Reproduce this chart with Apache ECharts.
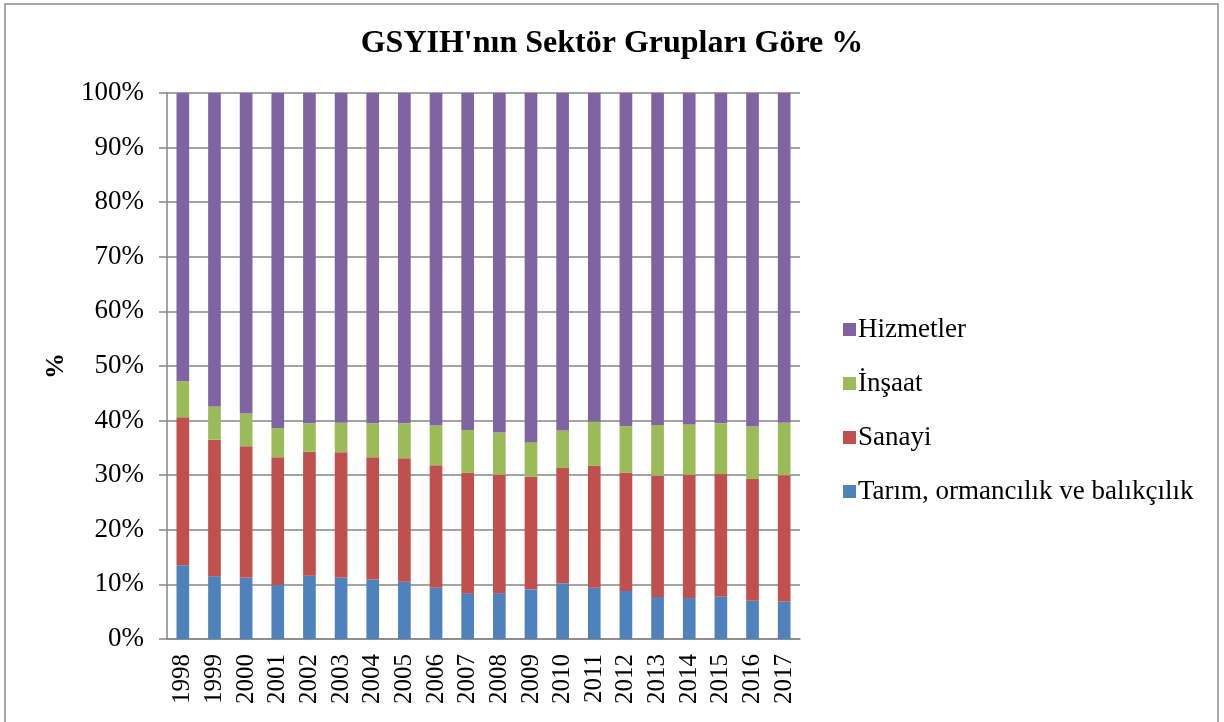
<!DOCTYPE html>
<html>
<head>
<meta charset="utf-8">
<script src="https://cdn.jsdelivr.net/npm/echarts@6/dist/echarts.min.js"></script>
<style>
  html, body { margin: 0; padding: 0; background: #fff; }
  #chart { width: 1224px; height: 722px; }
</style>
</head>
<body>
<div id="chart"></div>
<script>
// yillar ve sektor paylari (%)
const years = ['1998', '1999', '2000', '2001', '2002', '2003', '2004', '2005', '2006', '2007',
  '2008', '2009', '2010', '2011', '2012', '2013', '2014', '2015', '2016', '2017']
const tarim = [13.5, 11.5, 11.2, 9.9, 11.6, 11.2, 10.9, 10.5, 9.4, 8.4,
  8.4, 9.1, 10.2, 9.4, 8.8, 7.7, 7.5, 7.8, 7.0, 6.8]
const sanayi = [27.1, 25.0, 24.1, 23.4, 22.7, 23.0, 22.4, 22.6, 22.4, 22.1,
  21.7, 20.6, 21.1, 22.3, 21.7, 22.2, 22.6, 22.4, 22.3, 23.2]
const insaat = [6.6, 6.1, 6.0, 5.3, 5.2, 5.4, 6.2, 6.4, 7.3, 7.8,
  7.7, 6.3, 6.9, 8.1, 8.5, 9.3, 9.2, 9.3, 9.6, 9.6]
const hizmetler = [52.8, 57.4, 58.7, 61.4, 60.5, 60.4, 60.5, 60.5, 60.9, 61.7,
  62.2, 64.0, 61.8, 60.2, 61.0, 60.8, 60.7, 60.5, 61.1, 60.4]
const yTicks = [0, 10, 20, 30, 40, 50, 60, 70, 80, 90, 100]

const serif = '"Liberation Serif", "Times New Roman", serif'
const gridColor = '#868686'

const chart = echarts.init(document.getElementById('chart'))

function bar(name, data, color) {
  return {
    name: name,
    type: 'bar',
    stack: 'total',
    barCategoryGap: '60%',
    data: data,
    itemStyle: { color: color },
    emphasis: { disabled: true }
  }
}

const option = {
  animation: false,
  title: {
    text: "GSYIH'nın Sektör Grupları Göre %",
    left: 'center',
    top: 23,
    textStyle: { fontFamily: serif, fontSize: 32, fontWeight: 'bold', color: '#000' }
  },
  legend: {
    orient: 'vertical',
    left: 838,
    top: 311,
    itemWidth: 13,
    itemHeight: 13,
    itemGap: 27,
    icon: 'rect',
    data: ['Hizmetler', 'İnşaat', 'Sanayi', 'Tarım, ormancılık ve balıkçılık'],
    textStyle: { fontFamily: serif, fontSize: 27, color: '#000', padding: [0, 0, 0, -3] }
  },
  grid: {
    left: 167,
    right: 424,
    top: 93,
    bottom: 83,
    containLabel: false
  },
  xAxis: {
    type: 'category',
    data: years,
    axisLine: { lineStyle: { color: gridColor, width: 1.5 } },
    axisTick: { length: 7, interval: 0, lineStyle: { color: gridColor, width: 1.5 } },
    axisLabel: {
      interval: 0,
      hideOverlap: false,
      rotate: 90,
      margin: 15,
      fontFamily: serif,
      fontSize: 25,
      color: '#000'
    }
  },
  yAxis: {
    type: 'value',
    min: yTicks[0],
    max: yTicks[yTicks.length - 1],
    interval: 10,
    name: '%',
    nameLocation: 'middle',
    nameGap: 98,
    nameTextStyle: { fontFamily: serif, fontSize: 26, fontWeight: 'bold', color: '#000' },
    axisLine: { show: true, lineStyle: { color: gridColor, width: 1.5 } },
    axisTick: { show: true, length: 8, lineStyle: { color: gridColor, width: 1.5 } },
    splitLine: { lineStyle: { color: gridColor, width: 1.5 } },
    axisLabel: {
      formatter: '{value}%',
      margin: 23,
      fontFamily: serif,
      fontSize: 27,
      color: '#000'
    }
  },
  graphic: [{
    type: 'rect',
    shape: { x: 5, y: 4, width: 1213, height: 760 },
    style: { fill: 'none', stroke: '#8c8c8c', lineWidth: 1.5 },
    silent: true
  }],
  series: [
    bar('Tarım, ormancılık ve balıkçılık', tarim, '#4F81BD'),
    bar('Sanayi', sanayi, '#C0504D'),
    bar('İnşaat', insaat, '#9BBB59'),
    bar('Hizmetler', hizmetler, '#8064A2')
  ]
}

chart.setOption(option)
window.addEventListener('resize', function () {
  chart.resize()
})
</script>
</body>
</html>
